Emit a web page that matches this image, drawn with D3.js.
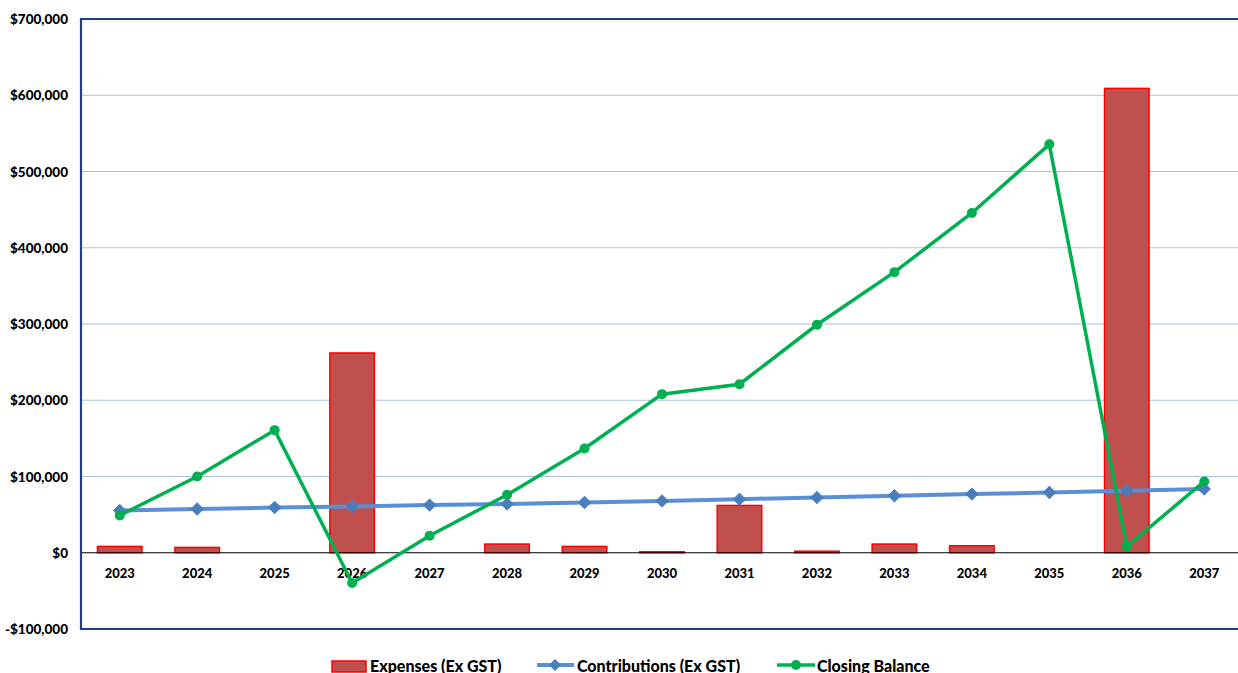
<!DOCTYPE html>
<html><head><meta charset="utf-8">
<script src="https://cdn.jsdelivr.net/npm/d3@7"></script>
<style>
html,body{margin:0;padding:0;background:#fff;overflow:hidden;}
svg text{font-family:Lato,"Open Sans",sans-serif;font-weight:900;fill:#000;}
</style></head>
<body><svg id="c" width="1238" height="673"></svg>
<script>
const years = ["2023","2024","2025","2026","2027","2028","2029","2030","2031","2032","2033","2034","2035","2036","2037"];
const expenses = [8300, 7000, 0, 262000, 0, 11400, 8300, 1300, 62000, 2000, 11400, 9200, 0, 609000, 0];
const contributions = [55500, 57300, 59300, 60700, 62500, 64000, 66000, 68000, 70300, 72500, 74700, 76900, 79000, 81300, 83500];
const closingBalance = [49000, 100000, 160800, -39700, 22300, 76000, 136700, 208000, 221000, 299000, 368000, 445600, 535600, 8300, 93500];
const yTicks = [-100000, 0, 100000, 200000, 300000, 400000, 500000, 600000, 700000];
const seriesNames = ["Expenses (Ex GST)", "Contributions (Ex GST)", "Closing Balance"];

(function(){
const svg = d3.select("#c");
const pL = 81, pR = 1243, pT = 19, pB = 629;
const x = d3.scaleBand().domain(years).range([pL, pR]).padding(0);
const y = d3.scaleLinear().domain([-100000, 700000]).range([pB, pT]);
const cx = d => x(d) + x.bandwidth() / 2;
const fmt = v => (v < 0 ? "-$" : "$") + d3.format(",")(Math.abs(v));

// gridlines
svg.append("g").selectAll("line").data(yTicks.filter(t => t > 0 && t < 700000)).join("line")
  .attr("x1", pL).attr("x2", 1238).attr("y1", d => y(d)).attr("y2", d => y(d))
  .attr("stroke", "#a9c1e3").attr("stroke-width", 1.2);

// y axis labels
svg.append("g").selectAll("text").data(yTicks).join("text")
  .attr("x", 68).attr("y", d => y(d) + 5).attr("text-anchor", "end")
  .attr("font-size", 13.5).text(fmt);

// bars
const bw = x.bandwidth() * 0.575;
svg.append("g").selectAll("rect").data(years.map((yr, i) => ({yr, v: expenses[i]})).filter(d => d.v > 0)).join("rect")
  .attr("x", d => cx(d.yr) - bw / 2).attr("width", bw)
  .attr("y", d => y(d.v)).attr("height", d => y(0) - y(d.v))
  .attr("fill", "#c0504d").attr("stroke", "#ff0000").attr("stroke-width", 1.5);

// zero line
svg.append("line").attr("x1", pL).attr("x2", 1238).attr("y1", y(0)).attr("y2", y(0))
  .attr("stroke", "#000").attr("stroke-width", 1.2);

// x labels
svg.append("g").selectAll("text").data(years).join("text")
  .attr("x", d => cx(d)).attr("y", 578).attr("text-anchor", "middle")
  .attr("font-size", 13).text(d => d);

// contributions line
const line = d3.line().x((d, i) => cx(years[i])).y(d => y(d));
svg.append("path").attr("d", line(contributions)).attr("fill", "none")
  .attr("stroke", "#5a8fd8").attr("stroke-width", 4);
const sq = d3.symbol().type(d3.symbolSquare).size(72)();
svg.append("g").selectAll("path").data(contributions).join("path")
  .attr("transform", (d, i) => `translate(${cx(years[i])},${y(d)}) rotate(45)`)
  .attr("d", sq)
  .attr("fill", "#4a7ebb").attr("stroke", "#4a7ebb").attr("stroke-width", 1);

// closing balance line
svg.append("path").attr("d", line(closingBalance)).attr("fill", "none")
  .attr("stroke", "#00b050").attr("stroke-width", 3.5);
svg.append("g").selectAll("circle").data(closingBalance).join("circle")
  .attr("cx", (d, i) => cx(years[i])).attr("cy", d => y(d)).attr("r", 5)
  .attr("fill", "#00b050");

// plot borders
svg.append("line").attr("x1", pL).attr("x2", 1238).attr("y1", pT).attr("y2", pT)
  .attr("stroke", "#1f3f86").attr("stroke-width", 2.2);
svg.append("line").attr("x1", pL).attr("x2", 1238).attr("y1", pB).attr("y2", pB)
  .attr("stroke", "#1f3f86").attr("stroke-width", 2.2);
svg.append("line").attr("x1", pL).attr("x2", pL).attr("y1", pT - 1).attr("y2", pB + 1)
  .attr("stroke", "#1f3f86").attr("stroke-width", 2.2);

// legend
const lg = svg.append("g");
lg.append("rect").attr("x", 332).attr("y", 661).attr("width", 34).attr("height", 11)
  .attr("fill", "#c0504d").attr("stroke", "#ff0000").attr("stroke-width", 1.5);
lg.append("text").attr("x", 370).attr("y", 671.5).attr("font-size", 16).text(seriesNames[0]);
lg.append("line").attr("x1", 537).attr("x2", 574).attr("y1", 665).attr("y2", 665)
  .attr("stroke", "#5a8fd8").attr("stroke-width", 4);
lg.append("path").attr("transform", "translate(555,665) rotate(45)")
  .attr("d", sq).attr("fill", "#4a7ebb");
lg.append("text").attr("x", 577).attr("y", 671.5).attr("font-size", 16).text(seriesNames[1]);
lg.append("line").attr("x1", 777).attr("x2", 815).attr("y1", 665).attr("y2", 665)
  .attr("stroke", "#00b050").attr("stroke-width", 3.5);
lg.append("circle").attr("cx", 796).attr("cy", 665).attr("r", 5).attr("fill", "#00b050");
lg.append("text").attr("x", 817).attr("y", 671.5).attr("font-size", 16).text(seriesNames[2]);
})();
</script></body></html>
